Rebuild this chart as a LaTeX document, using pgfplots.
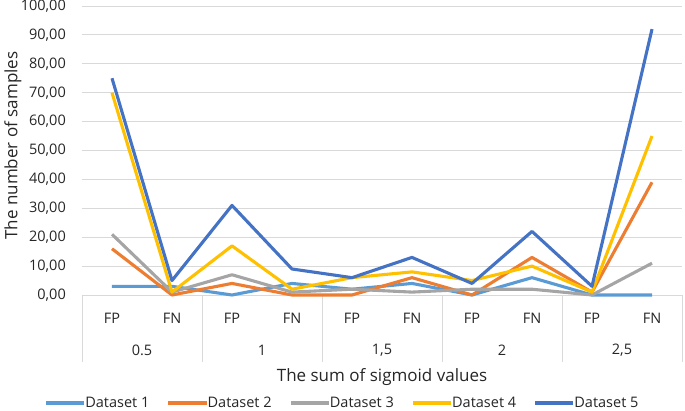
\documentclass[border=0pt]{standalone}
\usepackage{pgfplots}
\pgfplotsset{compat=1.18}
\usepackage{pgfplotstable}
\usepackage{fontspec}
\setmainfont{Open Sans}
\definecolor{c1}{HTML}{5B9BD5}
\definecolor{c2}{HTML}{ED7D31}
\definecolor{c3}{HTML}{A5A5A5}
\definecolor{c4}{HTML}{FFC000}
\definecolor{c5}{HTML}{4472C4}
\definecolor{gridc}{HTML}{D9D9D9}
\definecolor{txt}{HTML}{262626}
\pgfplotstableread{
x D1 D2 D3 D4 D5
1 3 16 21 70 75
2 3 0 1 1 5
3 0 4 7 17 31
4 4 0 1 2 9
5 2 0 2 6 6
6 4 6 1 8 13
7 0 0 2 5 4
8 6 13 2 10 22
9 0 1 0 1 3
10 0 39 11 55 92
}\datatable
\begin{document}
\begin{tikzpicture}[font=\fontsize{14.5}{17}\selectfont, text=txt]
\path[use as bounding box] (-82pt,-116pt) rectangle (603pt,295pt);
\begin{axis}[
  scale only axis, width=600pt, height=289pt,
  xmin=0.5, xmax=10.5, ymin=0, ymax=100,
  clip=false,
  xtick={1,...,10},
  xticklabels={FP,FN,FP,FN,FP,FN,FP,FN,FP,FN},
  ytick={0,10,...,100},
  ymajorgrids, grid style={gridc, line width=0.9pt},
  axis line style={draw=none},
  major tick length=0pt,
  yticklabel style={anchor=east, inner sep=0pt, xshift=-16pt},
  xticklabel style={anchor=center, inner sep=0pt, yshift=-23pt},
  /pgf/number format/.cd, fixed, fixed zerofill, precision=2, use comma, assume math mode=true,
  /pgfplots/.cd,
  xlabel={The sum of sigmoid values},
  xlabel style={at={(axis description cs:0.5,0)}, anchor=center, yshift=-82pt, font=\fontsize{17}{20}\selectfont},
  ylabel={The number of samples},
  ylabel style={at={(axis description cs:0,0.5)}, anchor=center, yshift=69pt, xshift=5pt, font=\fontsize{17}{20}\selectfont},
  legend columns=5,
  legend style={draw=none, at={(axis description cs:0.433,0)}, anchor=center, yshift=-108pt,
    /tikz/every odd column/.append style={column sep=-2pt},
    /tikz/every even column/.append style={column sep=16pt},
    nodes={inner xsep=1pt}},
  legend cell align=left,
  legend image code/.code={\draw[#1, line width=3.8pt] (0,0) -- (1.35cm,0);},
  every axis plot/.append style={line width=3.1pt, line join=round},
]
\draw[gridc, line width=0.9pt] (axis cs:0.5,0) -- (axis cs:10.5,0);
\pgfplotsinvokeforeach{0.5,2.5,4.5,6.5,8.5,10.5}{
  \draw[gridc, line width=0.9pt] (axis cs:#1,0) -- ++(0pt,-67pt);
}
\node at (axis cs:1.5,0) [yshift=-55pt] {0.5};
\node at (axis cs:3.5,0) [yshift=-55pt] {1};
\node at (axis cs:5.5,0) [yshift=-55pt] {1,5};
\node at (axis cs:7.5,0) [yshift=-55pt] {2};
\node at (axis cs:9.5,0) [yshift=-55pt] {2,5};
\addplot[c1] table[x=x, y=D1] {\datatable};
\addlegendentry{Dataset 1}
\addplot[c2] table[x=x, y=D2] {\datatable};
\addlegendentry{Dataset 2}
\addplot[c3] table[x=x, y=D3] {\datatable};
\addlegendentry{Dataset 3}
\addplot[c4] table[x=x, y=D4] {\datatable};
\addlegendentry{Dataset 4}
\addplot[c5] table[x=x, y=D5] {\datatable};
\addlegendentry{Dataset 5}
\end{axis}
\end{tikzpicture}
\end{document}
